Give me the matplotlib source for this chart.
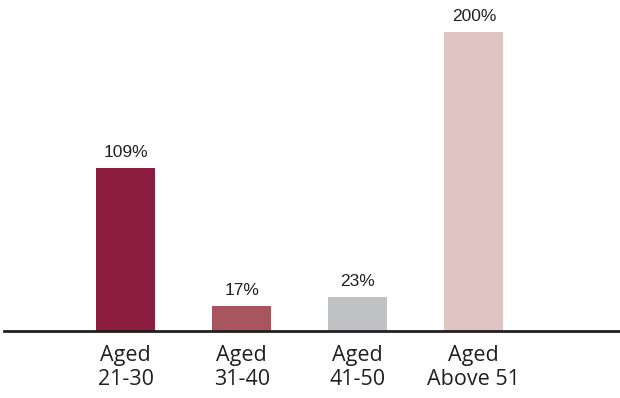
import matplotlib.pyplot as plt

# data
categories = ["Aged\n21-30", "Aged\n31-40", "Aged\n41-50", "Aged\nAbove 51"]
values = [109, 17, 23, 200]
colors = ["#8c1c40", "#a85560", "#bfc1c2", "#e0c4c4"]

plt.rcParams["font.family"] = ["Open Sans", "DejaVu Sans"]

fig = plt.figure(figsize=(6.2, 3.98), dpi=100)
ax = fig.add_axes([4 / 620, 67 / 398, 616 / 620, 331 / 398])

x = list(range(len(values)))
ax.bar(x, values, width=0.51, color=colors)

for xi, v in zip(x, values):
    ax.annotate(f"{v}%", (xi, v), xytext=(0, 5.5), textcoords="offset points",
                ha="center", va="bottom", fontsize=12.5, color="#231f20",
                family="Liberation Sans")

ax.set_xlim(-1.05, 4.26)
ax.set_ylim(0, 221.4)
ax.set_xticks(x)
ax.set_xticklabels(categories, fontsize=15.5, color="#231f20", linespacing=1.2)
ax.tick_params(axis="x", length=0, pad=10)
ax.set_yticks([])

for side in ["top", "right", "left"]:
    ax.spines[side].set_visible(False)
ax.spines["bottom"].set_color("#231f20")
ax.spines["bottom"].set_linewidth(2)

fig.savefig("out.png", dpi=100)
